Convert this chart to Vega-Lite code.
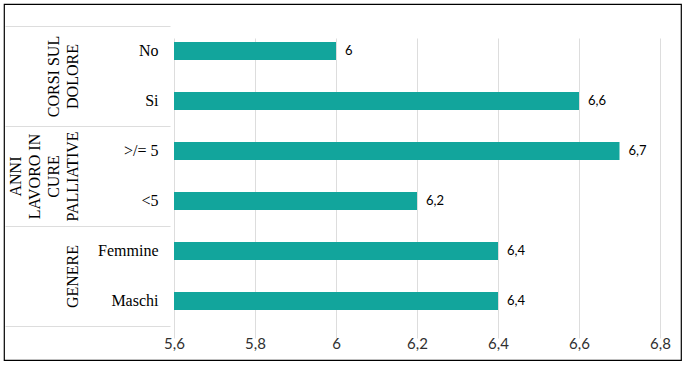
{
  "$schema": "https://vega.github.io/schema/vega-lite/v6.json",
  "autosize": {"type": "none"},
  "padding": {"left": 4, "top": 4, "right": 3, "bottom": 5},
  "width": 677,
  "height": 356,
  "background": "white",
  "config": {
    "view": {"stroke": "black", "strokeWidth": 1.2},
    "locale": {"number": {"decimal": ",", "thousands": ".", "grouping": [3], "currency": ["", " €"]}}
  },
  "data": {
    "values": [
      {"cat": "No", "group": "CORSI SUL|DOLORE", "value": 6.0},
      {"cat": "Si", "group": "CORSI SUL|DOLORE", "value": 6.6},
      {"cat": ">/= 5", "group": "ANNI|LAVORO IN|CURE|PALLIATIVE", "value": 6.7},
      {"cat": "<5", "group": "ANNI|LAVORO IN|CURE|PALLIATIVE", "value": 6.2},
      {"cat": "Femmine", "group": "GENERE", "value": 6.4},
      {"cat": "Maschi", "group": "GENERE", "value": 6.4}
    ]
  },
  "resolve": {"scale": {"y": "independent"}, "axis": {"y": "independent"}},
  "layer": [
    {
      "layer": [
        {
          "mark": {"type": "bar", "color": "#12A59C"},
          "encoding": {
            "y": {
              "field": "cat", "type": "nominal", "sort": null, "title": null,
              "scale": {"range": [22, 322], "paddingInner": 0.64, "paddingOuter": 0.32},
              "axis": {
                "orient": "left", "offset": -166, "domain": false, "ticks": false,
                "labelPadding": 12, "labelFont": "Liberation Serif", "labelFontSize": 16,
                "labelColor": "#000000", "grid": false
              }
            },
            "x": {
              "field": "value", "type": "quantitative", "title": null,
              "scale": {"domain": [5.6, 6.8], "range": [170, 656], "nice": false, "zero": false},
              "axis": {
                "orient": "bottom", "offset": -34, "domain": false, "ticks": false,
                "values": [5.6, 5.8, 6.0, 6.2, 6.4, 6.6, 6.8], "format": ".1~f",
                "labelFlush": false, "labelPadding": 10, "labelFont": "Lato", "labelFontSize": 15,
                "labelColor": "#303030", "grid": true, "gridColor": "#DDDDDD", "gridWidth": 1
              }
            },
            "x2": {"datum": 5.6}
          }
        },
        {
          "mark": {"type": "text", "align": "left", "dx": 9, "font": "Lato", "fontSize": 13, "color": "#000000"},
          "encoding": {
            "y": {"field": "cat", "type": "nominal", "sort": null},
            "x": {"field": "value", "type": "quantitative"},
            "text": {"field": "value", "type": "quantitative", "format": ".1~f"}
          }
        }
      ]
    },
    {
      "mark": {"type": "point", "opacity": 0},
      "encoding": {
        "x": {"field": "value", "type": "quantitative"},
        "y": {
          "field": "group", "type": "nominal", "sort": null, "title": null,
          "scale": {"range": [22, 322], "paddingInner": 0, "paddingOuter": 0},
          "axis": {
            "orient": "left", "offset": -166, "domain": false, "ticks": true,
            "tickBand": "extent", "tickSize": 165, "tickColor": "#DDDDDD", "tickWidth": 1,
            "labelAngle": -90, "labelAlign": "center", "labelBaseline": "bottom",
            "labelPadding": {
              "condition": [
                {"test": "datum.value == 'GENERE'", "value": -75},
                {"test": "datum.value == 'CORSI SUL|DOLORE'", "value": -56}
              ],
              "value": -18
            },
            "labelFont": "Liberation Serif", "labelFontSize": 16,
            "labelLineHeight": 19, "labelColor": "#000000", "labelOverlap": false,
            "labelFlush": false, "labelBound": false, "labelLimit": 0,
            "labelExpr": "split(datum.label, '|')",
            "grid": false
          }
        }
      }
    }
  ]
}
